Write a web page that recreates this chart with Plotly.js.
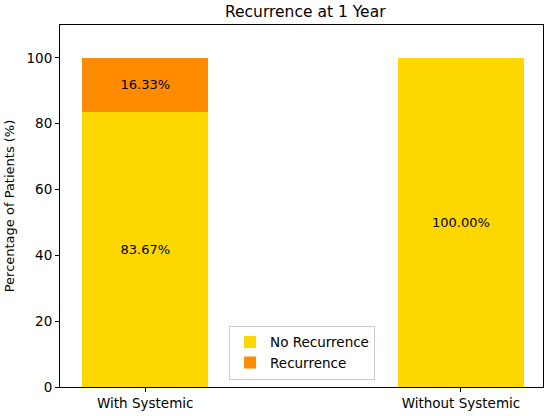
<!DOCTYPE html>
<html>
<head>
<meta charset="utf-8">
<script src="https://cdn.plot.ly/plotly-3.0.1.min.js"></script>
<style>
  body { margin: 0; background: white; }
  #chart { width: 550px; height: 416px; }
</style>
</head>
<body>
<div id="chart"></div>
<script>
var groups = ['With Systemic', 'Without Systemic'];
var noRecurrence = [83.67, 100];
var recurrence = [16.33, 0];

function labels(vals) {
  return vals.map(function(v) { return v > 0 ? v.toFixed(2) + '%' : ''; });
}

var noRec = {
  x: groups,
  y: noRecurrence,
  name: 'No Recurrence',
  type: 'bar',
  width: 0.4,
  text: labels(noRecurrence),
  textposition: 'inside',
  insidetextanchor: 'middle',
  textfont: { color: 'black', size: 13 },
  hoverinfo: 'y+name',
  marker: { color: '#FFD700' }
};

var rec = {
  x: groups,
  y: recurrence,
  name: 'Recurrence',
  type: 'bar',
  width: 0.4,
  text: labels(recurrence),
  textposition: 'inside',
  insidetextanchor: 'middle',
  textfont: { color: 'black', size: 13 },
  hoverinfo: 'y+name',
  marker: { color: '#FF8C00' }
};

var layout = {
  width: 550,
  height: 416,
  barmode: 'stack',
  paper_bgcolor: 'white',
  plot_bgcolor: 'white',
  font: { family: 'DejaVu Sans, sans-serif', color: 'black', size: 13 },
  title: {
    text: 'Recurrence at 1 Year',
    font: { size: 15.5 },
    x: 0.555,
    xanchor: 'center',
    y: 0.972,
    yanchor: 'middle'
  },
  margin: { t: 25, r: 7, b: 29, l: 60, pad: 0 },
  showlegend: true,
  legend: {
    x: 0.35,
    y: 0.02,
    xanchor: 'left',
    yanchor: 'bottom',
    bgcolor: 'white',
    bordercolor: '#cccccc',
    borderwidth: 1,
    font: { size: 13.5 },
    traceorder: 'normal'
  },
  xaxis: {
    range: [-0.27, 1.26],
    showline: true,
    linecolor: 'black',
    linewidth: 1,
    mirror: true,
    ticks: 'outside',
    ticklen: 4,
    tickcolor: 'black',
    showgrid: false,
    zeroline: false,
    tickfont: { size: 13.5 }
  },
  yaxis: {
    range: [0, 110],
    tickvals: [0, 20, 40, 60, 80, 100],
    showline: true,
    linecolor: 'black',
    linewidth: 1,
    mirror: true,
    ticks: 'outside',
    ticklen: 4,
    tickcolor: 'black',
    showgrid: false,
    zeroline: false,
    tickfont: { size: 13.5 },
    title: { text: 'Percentage of Patients (%)', font: { size: 13 }, standoff: 8 }
  }
};

Plotly.newPlot('chart', [noRec, rec], layout, { displayModeBar: false });
</script>
</body>
</html>
